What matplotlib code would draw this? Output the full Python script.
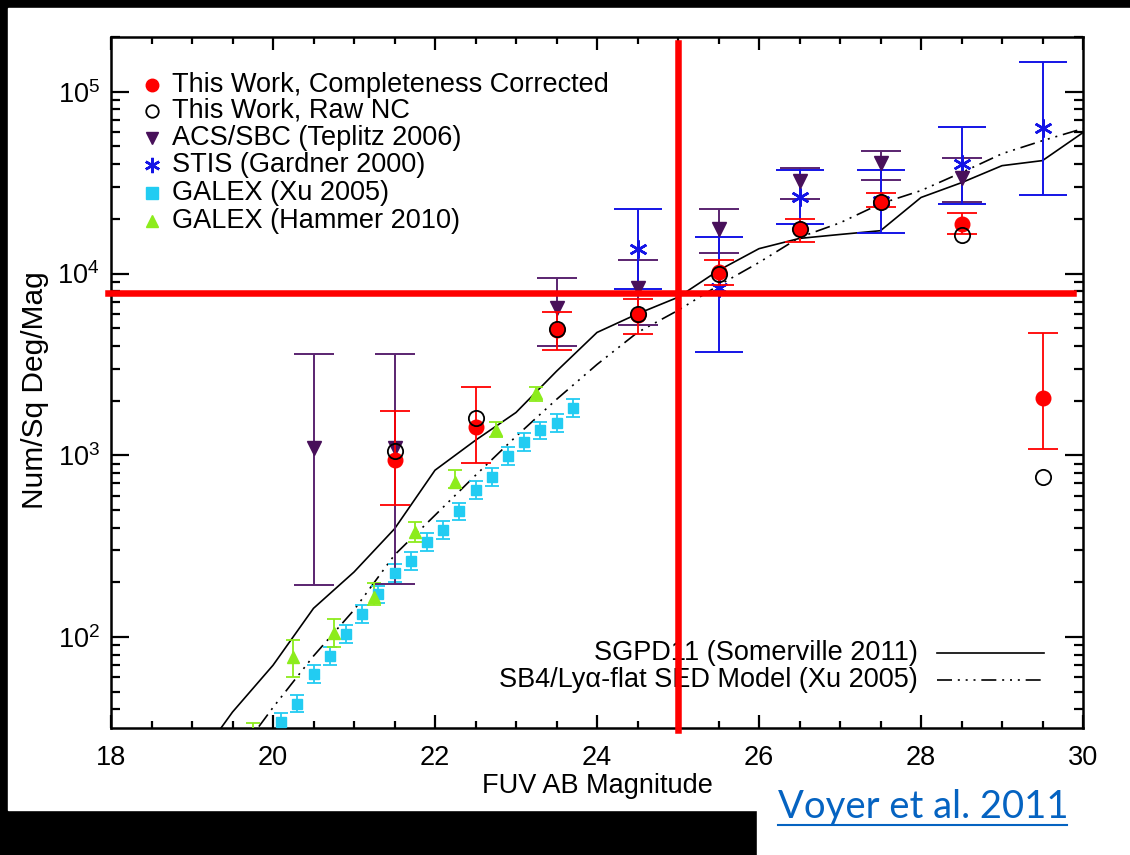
import numpy as np
import matplotlib.pyplot as plt
import matplotlib.ticker as mticker
from matplotlib.patches import Rectangle
from matplotlib.lines import Line2D

plt.rcParams['font.family'] = ['Liberation Sans', 'DejaVu Sans']
plt.rcParams['mathtext.fontset'] = 'custom'
plt.rcParams['mathtext.rm'] = 'Liberation Sans'
plt.rcParams['mathtext.it'] = 'Liberation Sans:italic'

# ---- data ----
# This work, completeness corrected (value, lower, upper)
mag_tw = [21.5, 22.5, 23.5, 24.5, 25.5, 26.5, 27.5, 28.5, 29.5]
n_cc = [940, 1425, 4860, 5880, 10250, 17500, 24600, 18800, 2060]
n_cc_lo = [530, 904, 3775, 4630, 8600, 15000, 23100, 16600, 1090]
n_cc_hi = [1750, 2370, 6110, 7200, 11900, 20000, 27800, 21600, 4680]
# raw number counts
n_raw = [1060, 1600, 4980, 6000, 10000, 17500, 24600, 16200, 757]

# ACS/SBC (Teplitz 2006)
mag_acs = [20.5, 21.5, 23.5, 24.5, 25.5, 26.5, 27.5, 28.5]
n_acs = [1100, 1100, 6500, 8300, 17500, 32400, 40700, 33700]
n_acs_lo = [193, 195, 3970, 5200, 12900, 25800, 32800, 24600]
n_acs_hi = [3590, 3620, 9500, 11800, 22500, 38200, 47400, 43300]

# STIS (Gardner 2000)
mag_stis = [24.5, 25.5, 26.5, 27.5, 28.5, 29.5]
n_stis = [13600, 8300, 26500, 25000, 40200, 63400]
n_stis_lo = [8200, 3680, 18800, 16800, 24200, 27200]
n_stis_hi = [22500, 15800, 37300, 37300, 64300, 146000]

# GALEX (Xu 2005)
mag_xu = [20.1, 20.3, 20.5, 20.7, 20.9, 21.1, 21.3, 21.5, 21.7, 21.9,
          22.1, 22.3, 22.5, 22.7, 22.9, 23.1, 23.3, 23.5, 23.7]
n_xu = [34.1, 42.9, 62.7, 78.7, 104, 134, 172, 225, 262, 333,
        387, 492, 643, 757, 988, 1180, 1370, 1500, 1810]
n_xu_lo = [30.5, 38.5, 56, 70.5, 93, 120, 154, 201, 234, 298,
           346, 440, 575, 677, 884, 1055, 1225, 1340, 1615]
n_xu_hi = [38.2, 48, 70, 88, 116, 150, 192, 252, 293, 372,
           433, 550, 720, 847, 1105, 1320, 1530, 1680, 2030]

# GALEX (Hammer 2010)
mag_ham = [19.75, 20.25, 20.75, 21.25, 21.75, 22.25, 22.75, 23.25]
n_ham = [26, 77.6, 105, 166, 377, 711, 1370, 2190]
n_ham_lo = [20, 60.3, 88, 150, 333, 659, 1260, 2000]
n_ham_hi = [33.6, 96.4, 126, 198, 429, 828, 1520, 2370]

# models
mag_sgpd = [19.0, 19.5, 20.0, 20.5, 21.0, 21.5, 22.0, 22.5, 23.0, 23.5, 24.0, 24.5,
            25.0, 25.5, 26.0, 26.5, 27.0, 27.5, 28.0, 28.5, 29.0, 29.5, 30.0]
n_sgpd = [19, 38.7, 70, 144, 228, 394, 828, 1210, 1720, 2900, 4740, 6000,
          7400, 10400, 13700, 15600, 16400, 17200, 26200, 31600, 39200, 41800, 59600]
mag_sb4 = [19.5, 20.0, 20.5, 21.0, 21.5, 22.0, 22.5, 23.0, 23.5, 24.0, 24.5,
           25.0, 25.5, 26.0, 26.5, 27.0, 27.5, 28.0, 28.5, 29.0, 29.5, 30.0]
n_sb4 = [20.5, 41, 78.7, 141, 283, 468, 776, 1270, 2030, 3160, 4740,
         6270, 8600, 11500, 15800, 19000, 24200, 28600, 35900, 45600, 53800, 62700]

# crosshair marking
cross_mag = 25.0
cross_n = 7.8e3


def yerr(v, lo, hi):
    v = np.asarray(v, float)
    return [v - np.asarray(lo, float), np.asarray(hi, float) - v]


W, H = 1130, 855
fig = plt.figure(figsize=(W / 100, H / 100), dpi=100, facecolor='black')
fig.patches.append(Rectangle((8 / W, 1 - 810 / H), 1, (810 - 8) / H,
                             transform=fig.transFigure, color='white', zorder=-5))
fig.patches.append(Rectangle((757 / W, 0), 1, 0.1,
                             transform=fig.transFigure, color='white', zorder=-5))

ax = fig.add_axes([111 / W, 1 - 728 / H, 972 / W, 691 / H])
ax.set_zorder(2)
ax.set_facecolor('white')

purple = '#48105a'
purple_bar = '#5a2470'
blue = '#1414e6'
cyan = '#22ccf2'
green = '#8cec1c'
dashdots = (0, (9, 3.5, 1.2, 3.5, 1.2, 3.5, 1.2, 3.5))

# models
ax.plot(mag_sgpd, n_sgpd, color='black', lw=1.2, zorder=2)
ax.plot(mag_sb4, n_sb4, color='black', lw=1.2, zorder=2, linestyle=dashdots)

ax.errorbar(mag_xu, n_xu, yerr=yerr(n_xu, n_xu_lo, n_xu_hi), fmt='s', ms=7.5,
            color=cyan, ecolor=cyan, elinewidth=1.3, capsize=4.7, capthick=1.3, zorder=3)
ax.errorbar(mag_ham, n_ham, yerr=yerr(n_ham, n_ham_lo, n_ham_hi), fmt='^', ms=9,
            color=green, ecolor=green, elinewidth=1.3, capsize=4.7, capthick=1.3, zorder=3)
ax.errorbar(mag_acs, n_acs, yerr=yerr(n_acs, n_acs_lo, n_acs_hi), fmt='v', ms=10.5,
            color=purple, ecolor=purple_bar, elinewidth=1.4, capsize=14.4, capthick=1.4, zorder=3)
ax.errorbar(mag_stis, n_stis, yerr=yerr(n_stis, n_stis_lo, n_stis_hi), fmt='none',
            ecolor=blue, elinewidth=1.4, capsize=17.6, capthick=1.4, zorder=3)
ax.plot(mag_stis, n_stis, linestyle='none', marker=(6, 2, 0), ms=13, mew=1.8,
        color=blue, zorder=3)
ax.errorbar(mag_tw, n_cc, yerr=yerr(n_cc, n_cc_lo, n_cc_hi), fmt='o', ms=10.5,
            color='red', ecolor='red', elinewidth=1.3, capsize=10.8, capthick=1.3, zorder=4)
ax.plot(mag_tw, n_raw, linestyle='none', marker='o', ms=11, mfc='none',
        mec='black', mew=1.3, zorder=5)

ax.set_xlim(18, 30)
ax.set_yscale('log')
ax.set_ylim(10 ** 1.5, 2.0e5)
ax.xaxis.set_major_locator(mticker.MultipleLocator(2))
ax.xaxis.set_minor_locator(mticker.MultipleLocator(0.5))
ax.yaxis.set_minor_locator(mticker.LogLocator(base=10, subs=np.arange(2, 10)))
ax.yaxis.set_minor_formatter(mticker.NullFormatter())
ax.tick_params(which='both', direction='in', top=True, right=True, width=1.6,
               labelsize=19.5, colors='black')
ax.tick_params(axis='x', which='major', length=9.5, pad=12)
ax.tick_params(axis='x', which='minor', length=5)
ax.tick_params(axis='y', which='major', length=13, pad=8)
ax.tick_params(axis='y', which='minor', length=6.5)
for s in ax.spines.values():
    s.set_linewidth(1.8)

fig.text(597 / W, 1 - 786 / H, 'FUV AB Magnitude', ha='center', va='center', fontsize=19.5)
fig.text(35 / W, 1 - 390 / H, 'Num/Sq Deg/Mag', ha='center', va='center',
         rotation=90, fontsize=21.5)

# upper-left legend
leg_x, txt_x = 0.0422, 0.0628
rows = [0.9305, 0.893, 0.854, 0.815, 0.774, 0.734]
entries = [
    ('This Work, Completeness Corrected', dict(marker='o', ms=9, color='red')),
    ('This Work, Raw NC', dict(marker='o', ms=9, mfc='none', mec='black', mew=1.3)),
    ('ACS/SBC (Teplitz 2006)', dict(marker='v', ms=9, color=purple)),
    ('STIS (Gardner 2000)', dict(marker=(6, 2, 0), ms=11, mew=1.8, color=blue)),
    ('GALEX (Xu 2005)', dict(marker='s', ms=8, color=cyan)),
    ('GALEX (Hammer 2010)', dict(marker='^', ms=9, color=green)),
]
for (label, style), yy in zip(entries, rows):
    ax.plot([leg_x], [yy], transform=ax.transAxes, linestyle='none', clip_on=False, **style)
    ax.text(txt_x, yy, label, transform=ax.transAxes, ha='left', va='center', fontsize=19.5)

# lower-right legend (text first, line after)
model_rows = [0.1085, 0.0695]
model_labels = ['SGPD11 (Somerville 2011)', 'SB4/Ly\u03b1-flat SED Model (Xu 2005)']
model_styles = ['-', dashdots]
for label, ls, yy in zip(model_labels, model_styles, model_rows):
    ax.text(0.830, yy, label, transform=ax.transAxes, ha='right', va='center', fontsize=19.5)
    ax.plot([0.850, 0.960], [yy, yy], transform=ax.transAxes, color='black', lw=1.2,
            linestyle=ls, clip_on=False)

# red crosshair
ax.axhline(cross_n, xmin=(108 - 111) / 972, xmax=(1073 - 111) / 972, color='red',
           lw=4.7, clip_on=False, zorder=10)
ax.axvline(cross_mag, ymin=(728 - 730) / 691, ymax=(728 - 43) / 691, color='red',
           lw=4.7, clip_on=False, zorder=10)

# citation link
fig.text(778 / W, 1 - 818 / H, 'Voyer et al. 2011', color='#0563c1', fontsize=27.5,
         family='Lato', ha='left', va='baseline')
fig.add_artist(Line2D([778 / W, 1067 / W], [1 - 825 / H] * 2, color='#0563c1', lw=1.5))

fig.savefig('out.png', dpi=100, facecolor=fig.get_facecolor())
